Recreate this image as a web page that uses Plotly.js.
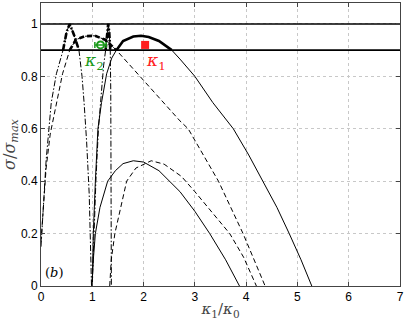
<!DOCTYPE html>
<html>
<head>
<meta charset="utf-8">
<script src="https://cdn.plot.ly/plotly-3.0.1.min.js"></script>
<style>
  html, body { margin: 0; padding: 0; background: #fff; }
  #grafico { width: 407px; height: 322px; }
</style>
</head>
<body>
<div id="grafico"></div>
<script>
// curvas (kappa1/kappa0, sigma/sigma_max)
const xSolidoGrande = [1.0, 1.005, 1.02, 1.06, 1.11, 1.18, 1.28, 1.38, 1.47, 1.6, 1.8, 1.95, 2.1, 2.3, 2.55, 2.71, 3.0, 3.35, 3.75, 4.05, 4.33, 4.6, 4.84, 5.07, 5.28];
const ySolidoGrande = [0, 0.1, 0.2, 0.4, 0.6, 0.7, 0.81, 0.87, 0.9, 0.935, 0.952, 0.955, 0.95, 0.935, 0.9, 0.866, 0.8, 0.7, 0.6, 0.5, 0.4, 0.3, 0.2, 0.1, 0];

const xSolidoPequeno = [0.99, 1.0, 1.02, 1.06, 1.15, 1.3, 1.45, 1.6, 1.8, 2.0, 2.3, 2.71, 3.0, 3.29, 3.6, 3.87];
const ySolidoPequeno = [0, 0.05, 0.1, 0.2, 0.3, 0.4, 0.44, 0.467, 0.478, 0.473, 0.44, 0.36, 0.285, 0.2, 0.1, 0];

const xTracoGrande = [0, 0.04, 0.1, 0.18, 0.3, 0.42, 0.56, 0.68, 0.85, 1.05, 1.25, 1.47, 1.93, 2.3, 2.71, 2.87, 3.2, 3.46, 3.94, 4.15, 4.37];
const yTracoGrande = [0.17, 0.3, 0.45, 0.58, 0.7, 0.81, 0.9, 0.94, 0.953, 0.955, 0.94, 0.9, 0.8, 0.72, 0.63, 0.6, 0.49, 0.4, 0.2, 0.1, 0];

const xTracoPequeno = [1.34, 1.37, 1.44, 1.55, 1.67, 1.85, 2.15, 2.4, 2.74, 3.0, 3.3, 3.68, 3.95, 4.2];
const yTracoPequeno = [0, 0.1, 0.2, 0.3, 0.4, 0.45, 0.478, 0.465, 0.418, 0.36, 0.29, 0.2, 0.11, 0];

const xTracoPontoGrande = [0, 0.04, 0.1, 0.2, 0.3, 0.43, 0.5, 0.56, 0.64, 0.74, 0.8, 0.84, 0.89, 0.94, 0.97, 0.985];
const yTracoPontoGrande = [0.15, 0.3, 0.48, 0.7, 0.81, 0.9, 0.97, 1.0, 0.96, 0.9, 0.8, 0.7, 0.55, 0.35, 0.15, 0];

const xTracoPontoEstreito = [1.0, 1.03, 1.07, 1.12, 1.17, 1.22, 1.26, 1.29, 1.31, 1.33, 1.35, 1.36, 1.365, 1.37, 1.372];
const yTracoPontoEstreito = [0, 0.2, 0.4, 0.6, 0.72, 0.84, 0.9, 0.97, 1.0, 0.97, 0.9, 0.75, 0.5, 0.25, 0];

const limiares = [1, 0.9];

const kappa1 = { x: [2.03], y: [0.92] };
const kappa2 = { x: [1.16], y: [0.92], erro: [0.11] };

const DASH = '5px,3px';
const DASHDOT = '6px,2px,1.5px,2px';

function curva(xs, ys, dash) {
    // parte fina + parte grossa onde sigma >= 0.9
    const xg = [], yg = [];
    xs.forEach((x, i) => {
        if (ys[i] >= 0.9) { xg.push(x); yg.push(ys[i]); }
    });
    return [
        { x: xs, y: ys, type: 'scatter', mode: 'lines', line: { color: '#000', width: 1, dash: dash }, hoverinfo: 'skip' },
        { x: xg, y: yg, type: 'scatter', mode: 'lines', line: { color: '#000', width: 2.6, dash: dash }, hoverinfo: 'skip' }
    ];
}

const traces = [];
limiares.forEach(l => {
    traces.push({ x: [0, 7], y: [l, l], type: 'scatter', mode: 'lines', line: { color: '#000', width: 1.6 } });
});
traces.push(...curva(xSolidoGrande, ySolidoGrande, 'solid'));
traces.push(...curva(xSolidoPequeno, ySolidoPequeno, 'solid'));
traces.push(...curva(xTracoGrande, yTracoGrande, DASH));
traces.push(...curva(xTracoPequeno, yTracoPequeno, DASH));
traces.push(...curva(xTracoPontoGrande, yTracoPontoGrande, DASHDOT));
traces.push(...curva(xTracoPontoEstreito, yTracoPontoEstreito, DASHDOT));

traces.push({
    x: kappa1.x, y: kappa1.y, type: 'scatter', mode: 'markers',
    marker: { symbol: 'square', size: 8, color: '#ff2020' }
});
traces.push({
    x: kappa2.x, y: kappa2.y, type: 'scatter', mode: 'markers',
    marker: { symbol: 'circle-open', size: 7, color: '#1a9a1a', line: { width: 2, color: '#1a9a1a' } },
    error_x: { type: 'data', array: kappa2.erro, color: '#1a9a1a', thickness: 1.5, width: 3 }
});

const eixo = {
    showline: true, mirror: 'ticks', linecolor: '#444', linewidth: 1,
    ticks: 'inside', ticklen: 4, tickcolor: '#444',
    showgrid: true, gridcolor: '#c8c8c8', griddash: 'dot', gridwidth: 1,
    zeroline: false,
    tickfont: { family: 'Liberation Sans, Arial, sans-serif', size: 12, color: '#000' }
};

const layout = {
    width: 407, height: 322,
    margin: { l: 41, r: 7, t: 3, b: 36 },
    paper_bgcolor: '#fff', plot_bgcolor: '#fff',
    showlegend: false,
    xaxis: Object.assign({}, eixo, {
        range: [0, 7], dtick: 1,
        title: { text: '<i>κ</i><sub>1</sub>/<i>κ</i><sub>0</sub>', font: { family: 'DejaVu Serif, serif', size: 15 }, standoff: 0 }
    }),
    yaxis: Object.assign({}, eixo, {
        range: [0, 1.08], tickvals: [0, 0.2, 0.4, 0.6, 0.8, 1], ticktext: ['0', '0.2', '0.4', '0.6', '0.8', '1'],
        title: { text: '<i>σ</i>/<i>σ</i><sub><i>max</i></sub>', font: { family: 'DejaVu Serif, serif', size: 16 }, standoff: 6 }
    }),
    annotations: [
        { x: 2.25, y: 0.855, text: '<i>κ</i><sub>1</sub>', showarrow: false, font: { family: 'DejaVu Serif, serif', size: 17, color: '#ff2020' } },
        { x: 1.03, y: 0.855, text: '<i>κ</i><sub>2</sub>', showarrow: false, font: { family: 'DejaVu Serif, serif', size: 17, color: '#1a9a1a' } },
        { x: 0.04, y: 0.05, xanchor: 'left', text: '(<i>b</i>)', showarrow: false, font: { family: 'DejaVu Serif, serif', size: 13, color: '#000' } }
    ]
};

Plotly.newPlot('grafico', traces, layout, { staticPlot: true, displayModeBar: false });
</script>
</body>
</html>
